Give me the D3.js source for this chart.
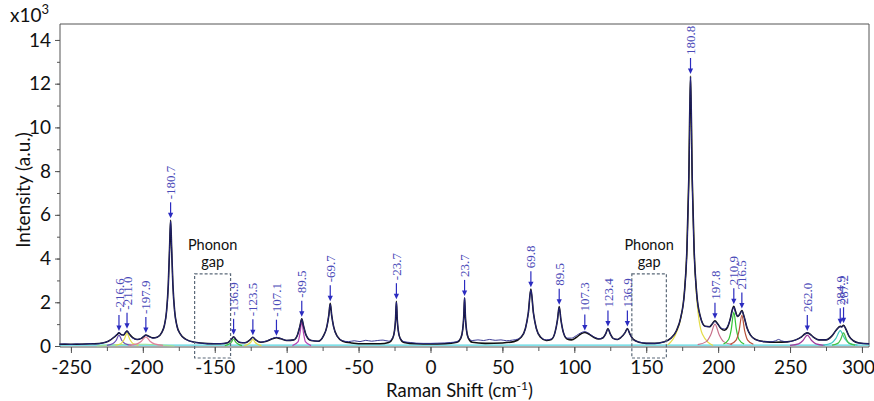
<!DOCTYPE html>
<html lang="en">
<head>
<meta charset="UTF-8">
<title>Raman spectrum</title>
<script src="https://cdn.jsdelivr.net/npm/d3@7"></script>
<style>
  body { margin: 0; background: #fff; }
  text { font-family: Lato, "Open Sans", sans-serif; fill: #111; }
  .tick text { font-size: 19px; }
  .peak-label { font-family: "Liberation Serif", "DejaVu Serif", serif; font-size: 13px; fill: #4a4ab8; }
  .gap-text { font-size: 14.5px; }
</style>
</head>
<body>
<svg width="874" height="401"></svg>
<script>
// intensities in units of 10^3 (a.u.)
const xTicks = [-250, -200, -150, -100, -50, 0, 50, 100, 150, 200, 250, 300];
const yTicks = [0, 2, 4, 6, 8, 10, 12, 14];

// black fitted envelope
const fitCurve = [[-258,0.08],[-245,0.08],[-235,0.1],[-228,0.14],[-224,0.22],[-220,0.4],[-218,0.52],[-216.6,0.6],[-215,0.52],[-213.5,0.5],[-212,0.62],[-211,0.68],[-209.5,0.56],[-207,0.38],[-204,0.3],[-201,0.35],[-199.5,0.43],[-197.9,0.5],[-196,0.45],[-193,0.37],[-190,0.4],[-187,0.6],[-185,0.95],[-183.5,1.6],[-182.3,2.8],[-181.4,4.5],[-180.7,5.75],[-180,4.5],[-179.1,2.8],[-177.9,1.6],[-176.4,0.95],[-174,0.55],[-170,0.3],[-164,0.17],[-155,0.11],[-146,0.1],[-141,0.15],[-138.5,0.3],[-136.9,0.42],[-135.3,0.3],[-132.5,0.16],[-129,0.15],[-125.5,0.28],[-123.5,0.4],[-121.5,0.28],[-118,0.17],[-114,0.22],[-110,0.33],[-107.1,0.38],[-104,0.33],[-100,0.25],[-95,0.28],[-92.5,0.5],[-90.8,0.9],[-89.5,1.25],[-88.2,0.9],[-86.5,0.5],[-83,0.25],[-78,0.22],[-74.5,0.45],[-72,0.9],[-70.7,1.4],[-69.7,1.95],[-68.7,1.4],[-67.4,0.9],[-64.9,0.45],[-61,0.22],[-55,0.14],[-45,0.1],[-35,0.1],[-29,0.16],[-26.3,0.35],[-25,0.7],[-24.3,1.2],[-23.7,2.05],[-23.1,1.2],[-22.4,0.7],[-21.1,0.35],[-18.4,0.16],[-10,0.1],[0,0.09],[10,0.1],[18.4,0.17],[21.1,0.36],[22.4,0.75],[23.1,1.3],[23.7,2.2],[24.3,1.3],[25,0.75],[26.3,0.36],[29,0.17],[38,0.12],[50,0.14],[58,0.2],[63,0.4],[66,0.8],[68,1.5],[69.8,2.6],[71.6,1.5],[73.6,0.8],[76.6,0.4],[80.5,0.25],[84,0.3],[86.5,0.6],[88.3,1.2],[89.5,1.8],[90.7,1.2],[92.5,0.6],[95,0.32],[98,0.28],[101.5,0.4],[104.5,0.55],[107.3,0.62],[110,0.55],[113.5,0.4],[117,0.32],[120,0.38],[121.8,0.55],[123.4,0.8],[125,0.55],[127,0.35],[130,0.3],[132.5,0.4],[135.2,0.6],[136.9,0.8],[138.6,0.55],[141,0.3],[145,0.17],[150,0.12],[156,0.12],[162,0.18],[167,0.35],[171,0.7],[174,1.3],[176.5,2.4],[178.3,4.4],[179.6,7.6],[180.8,12.35],[182,7.6],[183.3,4.4],[185.1,2.4],[187.6,1.35],[191,0.9],[194,0.88],[196,1.02],[197.8,1.15],[199.6,1.02],[202,0.8],[204.5,0.72],[206.5,0.85],[208.5,1.25],[209.8,1.65],[210.9,1.82],[212,1.6],[213.5,1.35],[215,1.45],[216.5,1.62],[218,1.35],[220,0.85],[222.5,0.5],[226,0.3],[232,0.2],[240,0.17],[248,0.19],[254,0.28],[258,0.42],[260.3,0.55],[262,0.6],[263.7,0.55],[266,0.42],[270,0.28],[275,0.28],[279,0.45],[282,0.72],[284.9,0.9],[286,0.88],[287.2,0.95],[289,0.75],[291,0.45],[294,0.24],[298,0.14],[305,0.1]];

// measured spectrum (navy)
const measured = [[-258,0.08],[-254,0.1],[-250,0.07],[-246,0.1],[-242,0.08],[-237,0.11],[-233,0.09],[-228,0.14],[-224,0.22],[-220,0.42],[-218,0.54],[-216.6,0.62],[-215,0.5],[-213.5,0.5],[-212,0.64],[-211,0.7],[-209.5,0.54],[-207,0.36],[-204,0.3],[-201,0.36],[-199.5,0.44],[-197.9,0.5],[-196,0.44],[-193,0.36],[-190,0.41],[-187,0.6],[-185,0.95],[-183.5,1.6],[-182.3,2.8],[-181.4,4.5],[-180.7,5.7],[-180,4.5],[-179.1,2.8],[-177.9,1.6],[-176.4,0.95],[-174,0.55],[-170,0.3],[-164,0.17],[-158,0.12],[-152,0.1],[-146,0.11],[-141,0.15],[-138.5,0.3],[-136.9,0.42],[-135.3,0.3],[-132.5,0.17],[-129,0.15],[-125.5,0.28],[-123.5,0.4],[-121.5,0.28],[-118,0.18],[-114,0.23],[-110,0.34],[-107.1,0.4],[-104,0.34],[-100,0.26],[-95,0.28],[-92.5,0.5],[-90.8,0.9],[-89.5,1.22],[-88.2,0.9],[-86.5,0.5],[-83,0.26],[-78,0.22],[-74.5,0.45],[-72,0.9],[-70.7,1.4],[-69.7,1.9],[-68.7,1.4],[-67.4,0.9],[-64.9,0.45],[-61,0.24],[-57,0.2],[-53,0.24],[-49,0.2],[-45,0.26],[-41,0.22],[-37,0.25],[-33,0.27],[-29,0.22],[-26.3,0.38],[-25,0.7],[-24.3,1.2],[-23.7,2.0],[-23.1,1.2],[-22.4,0.7],[-21.1,0.36],[-18.4,0.2],[-14,0.16],[-10,0.13],[-5,0.12],[0,0.12],[5,0.13],[10,0.14],[14,0.16],[18.4,0.2],[21.1,0.38],[22.4,0.75],[23.1,1.3],[23.7,2.2],[24.3,1.3],[25,0.75],[26.3,0.38],[29,0.25],[33,0.28],[37,0.25],[41,0.3],[45,0.26],[49,0.28],[53,0.24],[57,0.27],[61,0.32],[63,0.42],[66,0.8],[68,1.5],[69.8,2.55],[71.6,1.5],[73.6,0.8],[76.6,0.42],[80.5,0.28],[84,0.32],[86.5,0.6],[88.3,1.2],[89.5,1.75],[90.7,1.2],[92.5,0.6],[95,0.36],[98,0.36],[101.5,0.48],[104.5,0.6],[107.3,0.66],[110,0.58],[113.5,0.42],[117,0.33],[120,0.38],[121.8,0.55],[123.4,0.78],[125,0.55],[127,0.35],[130,0.3],[132.5,0.4],[135.2,0.6],[136.9,0.78],[138.6,0.55],[141,0.3],[145,0.18],[150,0.13],[156,0.12],[162,0.18],[167,0.35],[171,0.7],[174,1.3],[176.5,2.4],[178.3,4.4],[179.6,7.6],[180.8,12.3],[182,7.6],[183.3,4.4],[185.1,2.4],[187.6,1.35],[191,0.9],[194,0.88],[196,1.02],[197.8,1.12],[199.6,1.0],[202,0.82],[204.5,0.78],[206.5,0.9],[208.5,1.25],[209.8,1.6],[210.9,1.78],[212,1.55],[213.5,1.35],[215,1.45],[216.5,1.6],[218,1.35],[220,0.85],[222.5,0.5],[226,0.3],[232,0.2],[236,0.19],[240,0.24],[242,0.3],[244,0.24],[248,0.19],[254,0.28],[258,0.42],[260.3,0.55],[262,0.6],[263.7,0.55],[266,0.42],[270,0.28],[275,0.28],[279,0.45],[282,0.72],[284.9,0.88],[286,0.86],[287.2,0.92],[289,0.75],[291,0.45],[294,0.24],[298,0.14],[305,0.1]];

// fitted component bands (coloured)
const components = [
  [[-258,0.04],[305,0.04]],
  [[-232,0.0],[-222,0.05],[-210,0.08],[-198,0.08],[-188,0.05],[-178,0.0]],
  [[-225,0.03],[-221,0.1],[-218.6,0.25],[-216.6,0.5],[-214.6,0.25],[-212.2,0.1],[-208,0.03]],
  [[-219,0.03],[-215,0.12],[-213,0.3],[-211,0.58],[-209,0.3],[-207,0.12],[-203,0.03]],
  [[-210,0.03],[-204,0.1],[-201,0.22],[-197.9,0.42],[-195,0.22],[-192,0.1],[-186,0.03]],
  [[-143,0.02],[-140,0.09],[-138.4,0.18],[-136.9,0.32],[-135.4,0.18],[-133.8,0.09],[-131,0.02]],
  [[-129.5,0.02],[-126.5,0.09],[-125,0.17],[-123.5,0.3],[-122,0.17],[-120.5,0.09],[-117.5,0.02]],
  [[-96,0.02],[-92,0.2],[-90.7,0.6],[-89.5,1.1],[-88.3,0.6],[-87,0.2],[-83,0.02]],
  [[165,0.05],[171,0.62],[174,1.25],[176.5,2.4],[178.3,4.4],[179.6,7.6],[180.8,12.35],[182,7.6],[183.3,4.4],[185.1,2.2],[189,0.55],[196.5,0.02]],
  [[185.8,0.06],[191.8,0.2],[194.8,0.5],[197.8,1.0],[200.8,0.5],[203.8,0.2],[209.8,0.06]],
  [[203.7,0.09],[207.3,0.3],[209.1,0.75],[210.9,1.55],[212.7,0.75],[214.5,0.3],[218.1,0.09]],
  [[208.5,0.08],[212.5,0.27],[214.5,0.68],[216.5,1.4],[218.5,0.68],[220.5,0.27],[224.5,0.08]],
  [[250,0.03],[256,0.1],[259,0.25],[262,0.5],[265,0.25],[268,0.1],[274,0.03]],
  [[272.9,0.04],[278.9,0.14],[281.9,0.35],[284.9,0.7],[287.9,0.35],[290.9,0.14],[296.9,0.04]],
  [[279.2,0.04],[283.2,0.12],[285.2,0.3],[287.2,0.6],[289.2,0.3],[291.2,0.12],[295.2,0.04]]
];
const componentColors = ["#55d6e0", "#9ee39a", "#6a50b8", "#e4dc48", "#e0809c", "#3cbf3c", "#e4dc48",
  "#b443b4", "#e4dc48", "#c8708a", "#35c435", "#b8503a", "#a03c9c", "#40c8c0", "#46c046"];

// peak markers
const peakPos = [-216.6, -211.0, -197.9, -180.7, -136.9, -123.5, -107.1, -89.5, -69.7, -23.7, 23.7,
  69.8, 89.5, 107.3, 123.4, 136.9, 180.8, 197.8, 210.9, 216.5, 262.0, 284.9, 287.2];
const peakHeight = [0.6, 0.7, 0.5, 5.75, 0.42, 0.4, 0.38, 1.25, 1.95, 2.05, 2.2,
  2.6, 1.8, 0.62, 0.8, 0.8, 12.35, 1.15, 1.82, 1.62, 0.6, 0.9, 0.95];

const gapRanges = [[-164, -139], [140, 164]];
const gapTop = 3.3, gapBottom = -0.55;

const svg = d3.select("svg");
const plotLeft = 60, plotRight = 869, plotTop = 24, plotBottom = 346;

const x = d3.scaleLinear().domain([-257.6, 304.9]).range([plotLeft, plotRight]);
const y = d3.scaleLinear().domain([0, 14.73]).range([plotBottom, plotTop]);

// frame
svg.append("path")
  .attr("d", `M${plotLeft},${plotTop}H${plotRight}V${plotBottom + 1}`)
  .attr("fill", "none").attr("stroke", "#555").attr("stroke-width", 1);

// axes (plain hyphen for negatives, as in the original)
const xMinor = svg.append("g").attr("transform", `translate(0,${plotBottom + 1})`)
  .call(d3.axisBottom(x).tickValues(d3.range(-250, 301, 25)).tickSize(4).tickFormat(""));
const xAxis = svg.append("g").attr("transform", `translate(0,${plotBottom + 1})`)
  .call(d3.axisBottom(x).tickValues(xTicks).tickSize(6).tickPadding(8).tickFormat(d => String(d)));
const yMinor = svg.append("g").attr("transform", `translate(${plotLeft},0)`)
  .call(d3.axisLeft(y).tickValues(d3.range(0, 15, 1)).tickSize(3).tickFormat(""));
const yAxis = svg.append("g").attr("transform", `translate(${plotLeft},0)`)
  .call(d3.axisLeft(y).tickValues(yTicks).tickSize(5).tickPadding(4).tickFormat(d => String(d)));
[xMinor, xAxis, yMinor, yAxis].forEach(g => {
  g.select(".domain").attr("stroke", "#555");
  g.selectAll(".tick line").attr("stroke", "#555");
});
xMinor.select(".domain").remove();
yMinor.select(".domain").remove();
xAxis.select(".domain").attr("d", `M${plotLeft},0H${plotRight}`);
yAxis.select(".domain").attr("d", `M0,${plotTop}V${plotBottom + 1}`);
// keep the last label inside the window
xAxis.selectAll(".tick text").filter(d => d === 300).attr("dx", -4);

// component curves
const line = d3.line().x(d => x(d[0])).y(d => y(d[1])).curve(d3.curveMonotoneX);
svg.append("g").selectAll("path")
  .data(components)
  .enter().append("path")
  .attr("d", line)
  .attr("fill", "none")
  .attr("stroke", (d, i) => componentColors[i])
  .attr("stroke-width", 1.2);

// fit and measured spectrum
svg.append("path").attr("d", line(fitCurve))
  .attr("fill", "none").attr("stroke", "#111").attr("stroke-width", 1.6);
svg.append("path").attr("d", line(measured))
  .attr("fill", "none").attr("stroke", "#26268a").attr("stroke-width", 0.9);

// phonon gap boxes
gapRanges.forEach(g => {
  svg.append("rect")
    .attr("x", x(g[0])).attr("y", y(gapTop))
    .attr("width", x(g[1]) - x(g[0])).attr("height", y(gapBottom) - y(gapTop))
    .attr("fill", "none").attr("stroke", "#5a6878").attr("stroke-width", 1.2)
    .attr("stroke-dasharray", "3,2");
  const cx = (x(g[0]) + x(g[1])) / 2;
  svg.append("text").attr("class", "gap-text").attr("x", cx).attr("y", y(gapTop) - 24)
    .attr("text-anchor", "middle").text("Phonon");
  svg.append("text").attr("class", "gap-text").attr("x", cx).attr("y", y(gapTop) - 7)
    .attr("text-anchor", "middle").text("gap");
});

// peak arrows and labels
const markers = svg.append("g").selectAll("g")
  .data(peakPos.map((p, i) => ({ pos: p, h: peakHeight[i] })))
  .enter().append("g")
  .attr("transform", d => `translate(${x(d.pos)},${y(d.h) - 2})`);
markers.append("line")
  .attr("y1", -16).attr("y2", -4)
  .attr("stroke", "#2b2bc0").attr("stroke-width", 1.2);
markers.append("path")
  .attr("d", "M-2.6,-5.5L2.6,-5.5L0,0Z")
  .attr("fill", "#2b2bc0");
markers.append("text")
  .attr("class", "peak-label")
  .attr("transform", "translate(0,-19) rotate(-90)")
  .attr("dy", "0.35em")
  .text(d => d.pos.toFixed(1));

// axis titles
svg.append("text")
  .attr("x", (plotLeft + plotRight) / 2 - 5).attr("y", 397)
  .attr("text-anchor", "middle").style("font-size", "18.5px")
  .html('Raman Shift (cm<tspan dy="-7" font-size="12">-1</tspan><tspan dy="7">)</tspan>');
svg.append("text")
  .attr("transform", "translate(30,190) rotate(-90)")
  .attr("text-anchor", "middle").style("font-size", "19px")
  .text("Intensity (a.u.)");
svg.append("text")
  .attr("x", 10).attr("y", 22).style("font-size", "19px")
  .html('x10<tspan dy="-8" font-size="13">3</tspan>');
</script>
</body>
</html>
